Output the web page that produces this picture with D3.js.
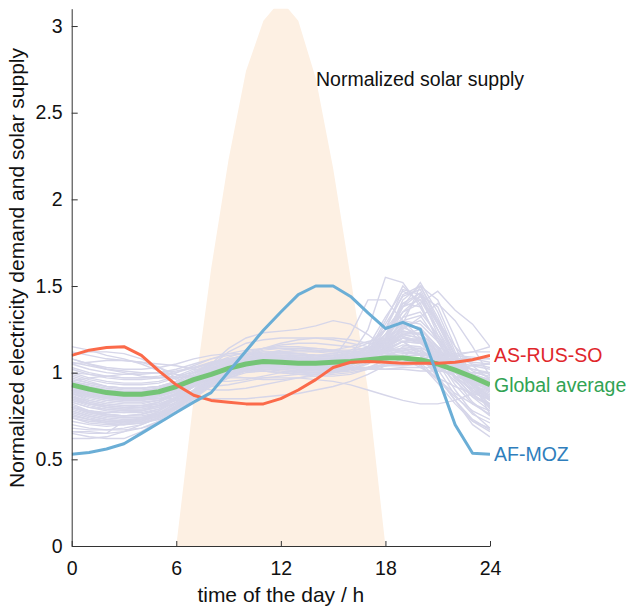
<!DOCTYPE html>
<html>
<head>
<meta charset="utf-8">
<script src="https://cdn.jsdelivr.net/npm/d3@7"></script>
<style>
body { margin: 0; background: #fff; }
svg { font-family: "Liberation Sans", Arial, sans-serif; }
</style>
</head>
<body>
<svg id="chart" width="626" height="611"></svg>
<script>
// hourly values, 0..24 h
const hours = [0,1,2,3,4,5,6,7,8,9,10,11,12,13,14,15,16,17,18,19,20,21,22,23,24];
const xTicks = [0, 6, 12, 18, 24];
const yTicks = [0, 0.5, 1, 1.5, 2, 2.5, 3];

const solarSupply = [0,0,0,0,0,0,0,0.85,1.6,2.23,2.74,3.03,3.15,3.03,2.7,2.18,1.55,0.9,0,0,0,0,0,0,0];
const globalAverage = [0.93,0.905,0.885,0.875,0.875,0.89,0.92,0.96,0.99,1.025,1.05,1.065,1.06,1.055,1.055,1.06,1.065,1.075,1.085,1.085,1.075,1.05,1.015,0.975,0.93];
const asRusSo = [1.10,1.13,1.145,1.15,1.10,1.01,0.93,0.87,0.84,0.83,0.82,0.82,0.85,0.90,0.96,1.03,1.06,1.065,1.06,1.055,1.055,1.055,1.06,1.075,1.10];
const afMoz = [0.53,0.54,0.56,0.59,0.65,0.71,0.77,0.83,0.885,1.005,1.125,1.245,1.35,1.45,1.50,1.50,1.44,1.345,1.255,1.29,1.25,0.98,0.70,0.535,0.53];

// the thin grey lines (one per region)
const countryProfiles = [
  [0.80,0.77,0.75,0.74,0.74,0.76,0.80,0.86,0.93,0.98,1.02,1.04,1.05,1.05,1.04,1.04,1.05,1.08,1.20,1.42,1.50,1.30,1.10,0.95,0.85],
  [0.85,0.82,0.80,0.79,0.79,0.81,0.85,0.92,0.98,1.02,1.04,1.05,1.04,1.03,1.02,1.02,1.04,1.10,1.25,1.48,1.45,1.22,1.05,0.93,0.86],
  [0.76,0.73,0.71,0.70,0.71,0.74,0.80,0.88,0.95,0.99,1.01,1.02,1.01,1.00,1.00,1.01,1.03,1.07,1.18,1.38,1.52,1.35,1.12,0.92,0.79],
  [0.90,0.87,0.85,0.84,0.84,0.86,0.90,0.95,1.00,1.03,1.05,1.06,1.06,1.05,1.04,1.04,1.06,1.12,1.30,1.50,1.40,1.18,1.02,0.95,0.90],
  [0.82,0.78,0.76,0.75,0.76,0.79,0.85,0.93,0.99,1.03,1.05,1.06,1.05,1.04,1.03,1.03,1.05,1.11,1.28,1.44,1.48,1.28,1.08,0.94,0.84],
  [0.88,0.84,0.82,0.81,0.81,0.83,0.88,0.95,1.01,1.05,1.08,1.09,1.08,1.07,1.06,1.07,1.10,1.25,1.55,1.52,1.38,1.20,1.06,0.97,0.90],
  [0.78,0.75,0.73,0.72,0.72,0.75,0.81,0.89,0.96,1.00,1.02,1.03,1.02,1.01,1.00,1.00,1.02,1.06,1.15,1.32,1.45,1.38,1.15,0.95,0.80],
  [0.92,0.89,0.87,0.86,0.86,0.88,0.92,0.98,1.03,1.06,1.08,1.09,1.09,1.08,1.07,1.08,1.22,1.42,1.42,1.30,1.20,1.12,1.05,0.98,0.93],
  [0.86,0.82,0.80,0.79,0.80,0.83,0.88,0.95,1.00,1.03,1.04,1.04,1.03,1.02,1.02,1.03,1.06,1.12,1.22,1.35,1.40,1.47,1.36,1.28,1.15],
  [0.80,0.77,0.76,0.75,0.76,0.78,0.83,0.90,0.96,1.00,1.02,1.03,1.03,1.02,1.01,1.02,1.04,1.09,1.20,1.40,1.46,1.25,1.04,0.90,0.82],
  [0.95,0.92,0.90,0.89,0.89,0.91,0.94,0.99,1.04,1.07,1.09,1.10,1.10,1.09,1.09,1.10,1.12,1.15,1.25,1.38,1.42,1.30,1.15,1.04,0.96],
  [0.74,0.71,0.70,0.70,0.71,0.74,0.79,0.86,0.93,0.97,1.00,1.01,1.00,0.99,0.99,1.00,1.02,1.05,1.12,1.28,1.50,1.42,1.20,0.95,0.76],
  [0.90,0.88,0.86,0.85,0.85,0.87,0.90,0.95,1.00,1.04,1.06,1.07,1.07,1.06,1.06,1.07,1.09,1.12,1.18,1.25,1.32,1.40,1.30,1.15,0.98],
  [0.95,0.92,0.90,0.89,0.89,0.90,0.93,0.98,1.03,1.06,1.08,1.09,1.09,1.08,1.08,1.08,1.09,1.11,1.13,1.14,1.12,1.08,1.03,0.99,0.96],
  [1.00,0.97,0.95,0.94,0.94,0.95,0.98,1.02,1.06,1.08,1.10,1.11,1.11,1.10,1.10,1.10,1.11,1.12,1.13,1.13,1.11,1.08,1.05,1.02,1.00],
  [0.88,0.85,0.83,0.82,0.82,0.84,0.88,0.94,1.00,1.04,1.07,1.08,1.08,1.07,1.06,1.06,1.07,1.09,1.12,1.16,1.15,1.08,1.00,0.93,0.89],
  [0.92,0.88,0.86,0.85,0.85,0.86,0.89,0.95,1.01,1.06,1.10,1.12,1.12,1.11,1.10,1.10,1.10,1.11,1.12,1.12,1.10,1.05,1.00,0.95,0.92],
  [1.05,1.02,1.00,0.99,0.99,1.00,1.02,1.05,1.08,1.10,1.11,1.12,1.12,1.11,1.10,1.09,1.08,1.08,1.09,1.10,1.10,1.09,1.08,1.06,1.05],
  [0.84,0.81,0.79,0.78,0.78,0.80,0.84,0.90,0.97,1.02,1.06,1.08,1.08,1.07,1.06,1.06,1.07,1.09,1.13,1.18,1.17,1.09,1.00,0.91,0.85],
  [0.98,0.95,0.92,0.91,0.91,0.92,0.95,1.00,1.05,1.09,1.12,1.14,1.15,1.15,1.14,1.13,1.12,1.11,1.10,1.09,1.07,1.04,1.02,1.00,0.98],
  [0.90,0.87,0.85,0.84,0.84,0.85,0.88,0.93,0.99,1.03,1.06,1.07,1.07,1.06,1.05,1.05,1.06,1.08,1.12,1.18,1.20,1.12,1.03,0.95,0.90],
  [0.80,0.77,0.75,0.74,0.74,0.76,0.81,0.88,0.95,1.01,1.06,1.09,1.10,1.10,1.09,1.09,1.10,1.12,1.15,1.20,1.18,1.08,0.97,0.87,0.81],
  [1.08,1.05,1.03,1.02,1.02,1.03,1.05,1.08,1.10,1.11,1.11,1.11,1.10,1.09,1.08,1.08,1.08,1.09,1.10,1.11,1.11,1.10,1.10,1.09,1.08],
  [0.86,0.84,0.82,0.81,0.81,0.82,0.85,0.90,0.96,1.01,1.05,1.07,1.08,1.08,1.07,1.07,1.08,1.10,1.14,1.22,1.25,1.15,1.02,0.92,0.87],
  [0.93,0.90,0.88,0.87,0.86,0.87,0.90,0.96,1.02,1.07,1.11,1.14,1.16,1.17,1.17,1.16,1.15,1.13,1.11,1.09,1.06,1.02,0.98,0.95,0.93],
  [0.96,0.94,0.92,0.91,0.91,0.92,0.94,0.97,1.01,1.04,1.06,1.07,1.06,1.05,1.04,1.04,1.05,1.08,1.14,1.20,1.17,1.10,1.04,0.99,0.96],
  [0.83,0.80,0.78,0.77,0.77,0.79,0.83,0.89,0.96,1.01,1.04,1.05,1.05,1.04,1.04,1.05,1.07,1.11,1.17,1.24,1.22,1.10,0.98,0.89,0.84],
  [1.02,0.99,0.97,0.96,0.96,0.97,1.00,1.04,1.08,1.11,1.13,1.14,1.14,1.13,1.12,1.11,1.10,1.10,1.11,1.12,1.11,1.08,1.06,1.04,1.02],
  [0.89,0.86,0.84,0.83,0.83,0.84,0.87,0.92,0.98,1.03,1.07,1.10,1.12,1.13,1.13,1.12,1.11,1.11,1.12,1.14,1.13,1.07,1.00,0.94,0.90],
  [0.94,0.91,0.89,0.88,0.88,0.89,0.92,0.97,1.02,1.05,1.07,1.08,1.08,1.07,1.07,1.07,1.08,1.10,1.16,1.26,1.30,1.20,1.07,0.99,0.95],
  [0.87,0.83,0.81,0.80,0.80,0.81,0.84,0.89,0.95,1.00,1.04,1.06,1.07,1.07,1.06,1.06,1.07,1.10,1.18,1.30,1.33,1.18,1.02,0.93,0.88],
  [1.12,1.10,1.08,1.07,1.06,1.05,1.04,1.02,1.00,0.98,0.97,0.96,0.96,0.97,0.98,0.99,1.00,1.02,1.04,1.06,1.08,1.10,1.11,1.12,1.12],
  [1.15,1.13,1.10,1.08,1.05,1.01,0.96,0.92,0.90,0.90,0.91,0.93,0.95,0.97,0.99,1.01,1.02,1.03,1.04,1.05,1.06,1.08,1.10,1.12,1.15],
  [1.05,1.06,1.07,1.07,1.06,1.03,0.99,0.96,0.95,0.95,0.96,0.98,1.00,1.01,1.02,1.02,1.02,1.02,1.02,1.03,1.03,1.03,1.03,1.04,1.05],
  [1.10,1.12,1.12,1.11,1.08,1.03,0.97,0.93,0.92,0.93,0.95,0.97,0.98,0.99,1.00,1.01,1.02,1.03,1.04,1.04,1.05,1.06,1.07,1.08,1.10],
  [1.00,0.99,0.98,0.97,0.97,0.97,0.98,1.00,1.02,1.03,1.04,1.04,1.04,1.03,1.03,1.03,1.03,1.03,1.02,1.02,1.01,1.01,1.00,1.00,1.00],
  [1.08,1.05,1.02,1.00,0.98,0.97,0.97,0.98,1.00,1.01,1.02,1.02,1.02,1.01,1.01,1.01,1.02,1.03,1.05,1.06,1.07,1.08,1.08,1.08,1.08],
  [0.66,0.65,0.65,0.66,0.68,0.72,0.80,0.90,0.99,1.05,1.09,1.11,1.12,1.12,1.12,1.13,1.15,1.18,1.20,1.18,1.10,0.97,0.84,0.73,0.67],
  [0.70,0.68,0.67,0.67,0.68,0.71,0.77,0.85,0.94,1.01,1.06,1.09,1.10,1.10,1.10,1.11,1.13,1.17,1.25,1.28,1.18,1.02,0.87,0.76,0.71],
  [0.62,0.62,0.63,0.66,0.70,0.74,0.79,0.86,0.93,0.99,1.04,1.07,1.08,1.08,1.08,1.08,1.09,1.10,1.12,1.14,1.10,0.98,0.84,0.70,0.63],
  [0.74,0.72,0.71,0.71,0.72,0.75,0.80,0.87,0.94,0.99,1.03,1.05,1.06,1.06,1.06,1.06,1.08,1.12,1.20,1.28,1.26,1.12,0.96,0.83,0.75],
  [0.68,0.67,0.67,0.68,0.70,0.74,0.80,0.89,0.97,1.04,1.10,1.14,1.17,1.19,1.20,1.20,1.19,1.17,1.15,1.12,1.05,0.94,0.82,0.72,0.68],
  [0.66,0.66,0.65,0.72,0.74,0.77,0.82,0.88,0.94,0.98,1.01,1.03,1.04,1.04,1.04,1.05,1.06,1.09,1.15,1.22,1.20,1.06,0.90,0.77,0.68],
  [0.65,0.63,0.62,0.62,0.66,0.72,0.80,0.88,0.95,1.00,1.03,1.05,1.06,1.06,1.06,1.07,1.08,1.10,1.14,1.18,1.12,0.98,0.84,0.72,0.66],
  [0.85,0.82,0.80,0.79,0.79,0.81,0.86,0.95,1.05,1.14,1.20,1.23,1.24,1.25,1.27,1.30,1.28,1.22,1.14,1.08,1.03,0.97,0.92,0.88,0.85],
  [0.78,0.75,0.73,0.72,0.73,0.76,0.83,0.93,1.04,1.12,1.17,1.19,1.20,1.20,1.20,1.19,1.17,1.15,1.12,1.09,1.04,0.96,0.88,0.82,0.78],
  [0.95,0.97,0.98,0.99,1.00,1.00,0.99,0.98,0.97,0.97,0.97,0.97,0.97,0.97,0.96,0.95,0.93,0.90,0.87,0.84,0.82,0.82,0.84,0.88,0.92],
  [0.80,0.78,0.77,0.77,0.78,0.81,0.86,0.92,0.97,1.00,1.01,1.01,1.00,0.99,0.98,0.98,0.99,1.02,1.08,1.15,1.14,1.05,0.95,0.86,0.81],
  [0.90,0.88,0.86,0.85,0.85,0.85,0.85,0.85,0.85,0.85,0.85,0.86,0.87,0.88,0.90,0.92,0.95,0.99,1.04,1.08,1.07,1.03,0.98,0.94,0.91],
  [0.72,0.70,0.69,0.70,0.73,0.78,0.85,0.92,0.97,1.00,1.01,1.01,1.00,0.99,0.99,1.00,1.01,1.03,1.07,1.10,1.06,0.96,0.86,0.78,0.73],
  [0.97,0.94,0.92,0.91,0.91,0.92,0.95,1.00,1.04,1.07,1.09,1.10,1.10,1.09,1.08,1.08,1.09,1.12,1.20,1.32,1.35,1.22,1.08,1.01,0.97],
  [0.83,0.80,0.79,0.78,0.78,0.80,0.85,0.92,0.98,1.02,1.05,1.06,1.06,1.05,1.05,1.05,1.07,1.12,1.25,1.45,1.50,1.32,1.10,0.93,0.84],
  [0.88,0.86,0.84,0.83,0.83,0.84,0.87,0.93,0.99,1.03,1.06,1.08,1.08,1.08,1.07,1.07,1.09,1.15,1.32,1.47,1.42,1.25,1.08,0.96,0.89],
  [0.91,0.88,0.86,0.85,0.85,0.87,0.91,0.97,1.02,1.05,1.07,1.08,1.08,1.07,1.06,1.06,1.07,1.10,1.18,1.35,1.44,1.28,1.10,0.98,0.91],
  [0.79,0.76,0.74,0.73,0.73,0.75,0.80,0.87,0.94,0.99,1.02,1.04,1.04,1.03,1.03,1.04,1.06,1.10,1.22,1.40,1.38,1.20,1.02,0.88,0.80],
  [0.93,0.90,0.88,0.87,0.87,0.88,0.91,0.96,1.01,1.05,1.08,1.10,1.11,1.11,1.10,1.10,1.11,1.14,1.22,1.30,1.28,1.18,1.06,0.98,0.93],
  [0.86,0.83,0.81,0.80,0.80,0.82,0.86,0.92,0.98,1.03,1.07,1.09,1.10,1.10,1.09,1.09,1.10,1.13,1.19,1.27,1.26,1.15,1.03,0.93,0.87],
  [1.03,1.00,0.98,0.97,0.97,0.98,1.00,1.03,1.06,1.08,1.09,1.10,1.09,1.08,1.08,1.08,1.09,1.12,1.18,1.24,1.22,1.15,1.09,1.05,1.03],
  [0.77,0.74,0.72,0.71,0.71,0.73,0.78,0.85,0.92,0.97,1.01,1.03,1.03,1.03,1.02,1.03,1.05,1.08,1.14,1.22,1.23,1.12,0.98,0.86,0.78],
  [0.99,0.96,0.94,0.93,0.93,0.94,0.97,1.01,1.05,1.08,1.10,1.11,1.11,1.11,1.10,1.10,1.11,1.13,1.17,1.22,1.20,1.13,1.06,1.02,0.99],
  [0.84,0.82,0.81,0.80,0.81,0.83,0.87,0.93,0.99,1.04,1.08,1.11,1.13,1.14,1.14,1.13,1.13,1.14,1.17,1.21,1.18,1.08,0.98,0.90,0.85],
  [0.90,0.87,0.85,0.84,0.84,0.85,0.88,0.94,1.00,1.04,1.07,1.09,1.09,1.09,1.08,1.08,1.09,1.12,1.20,1.38,1.46,1.30,1.10,0.97,0.90],
  [0.95,0.93,0.91,0.90,0.90,0.91,0.93,0.97,1.01,1.04,1.06,1.07,1.07,1.06,1.06,1.06,1.07,1.09,1.13,1.18,1.17,1.11,1.04,0.99,0.95],
  [0.81,0.78,0.76,0.75,0.75,0.77,0.82,0.89,0.96,1.01,1.04,1.06,1.06,1.05,1.05,1.05,1.06,1.09,1.14,1.20,1.19,1.09,0.97,0.87,0.82],
  [1.06,1.04,1.02,1.01,1.00,1.00,1.01,1.03,1.05,1.07,1.08,1.09,1.09,1.08,1.07,1.07,1.07,1.08,1.10,1.13,1.14,1.12,1.10,1.08,1.06],
  [0.75,0.73,0.72,0.72,0.73,0.76,0.81,0.88,0.95,1.00,1.03,1.05,1.05,1.05,1.05,1.06,1.08,1.12,1.19,1.26,1.22,1.08,0.93,0.82,0.76],
  [0.89,0.87,0.86,0.86,0.86,0.87,0.89,0.93,0.97,1.00,1.02,1.03,1.03,1.03,1.03,1.04,1.06,1.10,1.16,1.23,1.22,1.14,1.03,0.95,0.90],
  [0.92,0.89,0.87,0.86,0.86,0.87,0.90,0.95,1.01,1.06,1.10,1.13,1.14,1.14,1.13,1.12,1.12,1.13,1.16,1.20,1.18,1.11,1.03,0.96,0.92]
];

const highlighted = [
  { name: "Global average", values: globalAverage, color: "#74c476", textColor: "#31a354", width: 5 },
  { name: "AS-RUS-SO", values: asRusSo, color: "#fb6a4a", textColor: "#e0262b", width: 3 },
  { name: "AF-MOZ", values: afMoz, color: "#6baed6", textColor: "#2f7ebc", width: 3 }
];

var margin = { left: 71.7, right: 136, top: 8.7, bottom: 65 };
var width = 626, height = 611;

const svg = d3.select('#chart');

const x = d3.scaleLinear().domain([0, 24]).range([margin.left, width - margin.right]);
const y = d3.scaleLinear().domain([0, 3.1]).range([height - margin.bottom, margin.top]);

svg.append('defs').append('clipPath').attr('id', 'plotClip')
  .append('rect')
  .attr('x', x(0)).attr('y', y(3.1))
  .attr('width', x(24) - x(0)).attr('height', y(0) - y(3.1));

const plot = svg.append('g').attr('clip-path', 'url(#plotClip)');

// solar supply
const solarArea = d3.area()
  .x((d, i) => x(hours[i]))
  .y0(y(0))
  .y1(d => y(d));

plot.append('path')
  .datum(solarSupply)
  .attr('d', solarArea)
  .attr('fill', '#fdf0e3');

const line = d3.line()
  .x((d, i) => x(hours[i]))
  .y(d => y(d));

plot.selectAll('.country')
  .data(countryProfiles)
  .enter().append('path')
  .attr('class', 'country')
  .attr('d', line)
  .attr('fill', 'none')
  .attr('stroke', '#d6d6e9')
  .attr('stroke-width', 1.4);

plot.selectAll('.highlight')
  .data(highlighted)
  .enter().append('path')
  .attr('class', 'highlight')
  .attr('d', d => line(d.values))
  .attr('fill', 'none')
  .attr('stroke', d => d.color)
  .attr('stroke-width', d => d.width)
  .attr('stroke-linejoin', 'round');

svg.selectAll('.endLabel')
  .data(highlighted)
  .enter().append('text')
  .attr('class', 'endLabel')
  .attr('x', x(24) + 4)
  .attr('y', d => y(d.values[d.values.length - 1]) + 7)
  .attr('fill', d => d.textColor)
  .style('font-size', '19.5px')
  .text(d => d.name);

svg.append('text')
  .attr('x', 316)
  .attr('y', 86)
  .attr('fill', '#111')
  .style('font-size', '19.5px')
  .text('Normalized solar supply');

// axes
const xAxis = svg.append('g')
  .attr('transform', `translate(0, ${y(0)})`)
  .call(d3.axisBottom(x).tickValues(xTicks).tickSize(-5).tickSizeOuter(0).tickPadding(15));

const yAxis = svg.append('g')
  .attr('transform', `translate(${x(0)}, 0)`)
  .call(d3.axisLeft(y).tickValues(yTicks).tickFormat(d3.format('~g')).tickSize(-6).tickSizeOuter(0).tickPadding(9));

[xAxis, yAxis].forEach(function(ax) {
  ax.select('.domain').attr('stroke', '#333');
  ax.selectAll('.tick line').attr('stroke', '#333');
  ax.selectAll('.tick text')
    .attr('fill', '#111')
    .style('font-size', '19.5px')
    .style('font-family', '"Liberation Sans", Arial, sans-serif');
});

svg.append('text')
  .attr('x', (x(0) + x(24)) / 2)
  .attr('y', 602)
  .attr('text-anchor', 'middle')
  .attr('fill', '#111')
  .style('font-size', '21px')
  .text('time of the day / h');

svg.append('text')
  .attr('transform', 'translate(24, 268) rotate(-90)')
  .attr('text-anchor', 'middle')
  .attr('fill', '#111')
  .style('font-size', '21px')
  .text('Normalized electricity demand and solar supply');
</script>
</body>
</html>
